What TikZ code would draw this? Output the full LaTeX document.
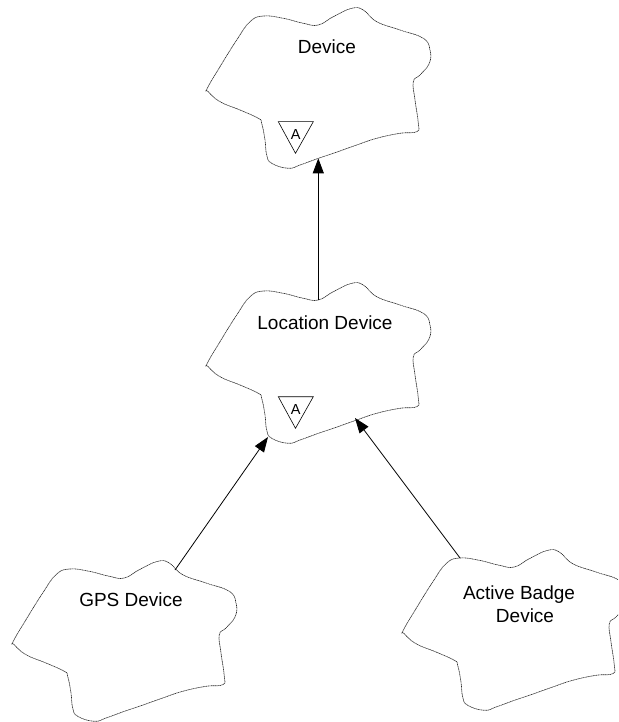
\documentclass[tikz,border=0pt]{standalone}
\usepackage{fontspec}
\setmainfont{Liberation Sans}
\usetikzlibrary{arrows.meta}
\tikzset{
  cloudline/.style={line width=0.6pt, draw=black!85, dash pattern=on 1.2pt off 0.5pt},
  conn/.style={line width=0.8pt, -{Triangle[length=15pt,width=11pt]}},
  lbl/.style={font=\fontsize{19}{23}\selectfont, inner sep=0pt, align=center},
  abstri/.style={line width=0.6pt, draw=black},
  alab/.style={font=\fontsize{14.5}{16}\selectfont, inner sep=0pt}
}
\newcommand{\boochcloud}[2]{%
  \draw[cloudline, shift={(#1,#2)}] plot[smooth cycle, tension=0.75] coordinates {
    (207.3,88.3) (220,66.7) (236.7,40) (250,21.7) (263.3,16) (283.3,18.3)
    (303.3,23.3) (318.3,25) (333.3,16.7) (351.7,8.3) (363.3,10) (376.7,21.7)
    (400,30) (423.3,38.3) (430,50) (429.3,63.3) (420,75) (413.3,81.7)
    (415,100) (418.3,123.3) (416.7,131.7) (400,133.3) (376.7,138.3)
    (356.7,145) (333.3,153.3) (318.3,158.3) (300,165) (288.3,168.3)
    (271.7,163.3) (266.7,155) (265,140) (261.7,123.3) (258.3,118.3)
    (240,110) (220,101.7) (208.3,91.7)};}
\newcommand{\abstractmark}[3]{%
  \draw[abstri, shift={(#1,#2)}] (278.3,121.7) -- (313.3,121.7) -- (295.5,153.3) -- cycle;
  \node[alab] (#3) at ([shift={(#1,#2)}]295.7,134.5) {A};}
\begin{document}
\begin{tikzpicture}[x=1pt,y=-1pt]
  \useasboundingbox (0,0) rectangle (618,722);
  \clip (0,0) rectangle (618,722);
  % clouds
  \boochcloud{0}{0}
  \boochcloud{0}{275}
  \boochcloud{-194}{553}
  \boochcloud{196}{542}
  % abstract marks
  \abstractmark{0}{0}{aDev}
  \abstractmark{0}{275}{aLoc}
  % labels
  \node[lbl] (dev) at (327,47) {Device};
  \node[lbl] (loc) at (325,323) {Location Device};
  \node[lbl] (gps) at (131,600) {GPS Device};
  \node[lbl] (ab) at (519,604) {Active Badge\\\hspace*{12pt}Device};
  % connector end points on the cloud outlines
  \coordinate (devBot) at (318.3,158.3);
  \coordinate (locTop) at (318.3,300);
  \coordinate (locBotL) at (268,437);
  \coordinate (locBotR) at (355,418);
  \coordinate (gpsTop) at (175,570);
  \coordinate (abTop) at (460,558);
  % connectors
  \draw[conn] (locTop) -- (devBot);
  \draw[conn] (gpsTop) -- (locBotL);
  \draw[conn] (abTop) -- (locBotR);
\end{tikzpicture}
\end{document}
